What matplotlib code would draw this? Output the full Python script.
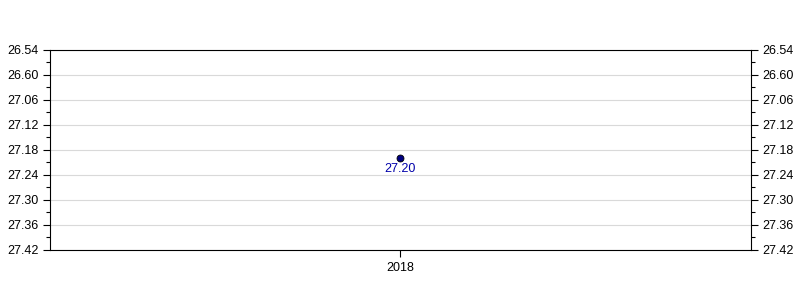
import matplotlib
matplotlib.use("Agg")
import matplotlib.pyplot as plt
from matplotlib.ticker import FixedLocator, MultipleLocator

plt.rcParams['font.family'] = ['Liberation Sans', 'DejaVu Sans']

# data: times as "min.sec"
years = ['2018']
times = ['27.20']
tick_labels = ['26.54', '26.60', '27.06', '27.12', '27.18', '27.24', '27.30', '27.36', '27.42']


def to_sec(t):
    m, s = t.split('.')
    return int(m) * 60 + int(s)


secs = [to_sec(t) for t in times]
ymin = to_sec(tick_labels[0])
ticks = [ymin + 6 * i for i in range(len(tick_labels))]

fig = plt.figure(figsize=(8, 3), dpi=100)
ax = fig.add_axes([0.0625, 0.1667, 0.876, 0.6667])

xs = list(range(len(years)))
ax.plot(xs, secs, 'o', color='#000080', markeredgecolor='black', markeredgewidth=0.6, markersize=5, zorder=3)
for x, y, t in zip(xs, secs, times):
    ax.annotate(t, (x, y), xytext=(0, -7.5), textcoords='offset points', ha='center', va='center',
                color='#0000AA', fontsize=9)

ax.set_xlim(-1, 1)
ax.set_xticks(xs)
ax.set_xticklabels(years, fontsize=9)
ax.set_ylim(ticks[-1], ticks[0])
ax.yaxis.set_major_locator(FixedLocator(ticks))
ax.set_yticklabels(tick_labels, fontsize=9)
ax.yaxis.set_minor_locator(MultipleLocator(3))
ax.tick_params(axis='y', which='both', left=True, right=True, labelleft=True, labelright=True)
ax.tick_params(axis='y', which='major', length=5, width=0.8)
ax.tick_params(axis='y', which='minor', length=3, width=0.8)
ax.tick_params(axis='x', length=5, width=0.8)
ax.grid(axis='y', color='#d9d9d9', linewidth=0.8)
ax.set_axisbelow(True)
for s in ax.spines.values():
    s.set_linewidth(0.8)

fig.savefig('out.png', dpi=100)
